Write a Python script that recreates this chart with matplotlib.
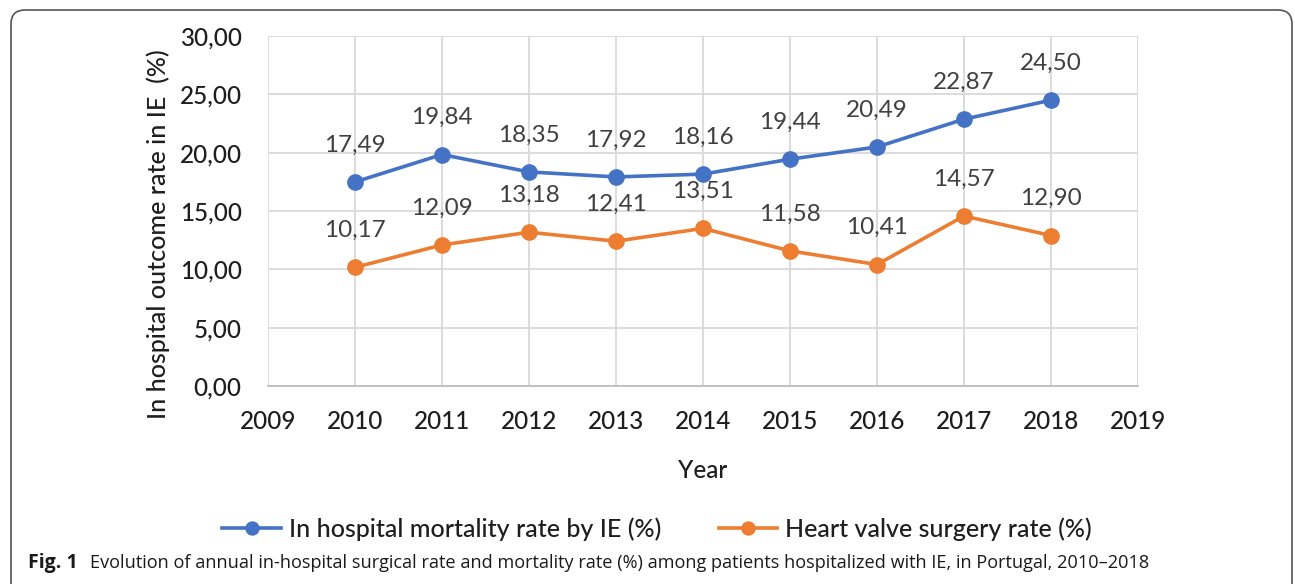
import numpy as np
import matplotlib.pyplot as plt
from matplotlib.patches import FancyBboxPatch
from matplotlib.ticker import FuncFormatter, MultipleLocator

# data
years = [2010, 2011, 2012, 2013, 2014, 2015, 2016, 2017, 2018]
mortality = [17.49, 19.84, 18.35, 17.92, 18.16, 19.44, 20.49, 22.87, 24.50]
surgery = [10.17, 12.09, 13.18, 12.41, 13.51, 11.58, 10.41, 14.57, 12.90]
label_mortality = "In hospital mortality rate by IE (%)"
label_surgery = "Heart valve surgery rate (%)"

blue = "#4472C4"
orange = "#ED7D31"
txt = "#1e1e1e"
W, H = 1295, 584

plt.rcParams['font.family'] = ['Lato', 'DejaVu Sans']

fig = plt.figure(figsize=(W / 100, H / 100), dpi=100)
ax = fig.add_axes([268 / W, 1 - 386 / H, 870 / W, 350 / H])


def komma(v, pos=None):
    return f"{v:.2f}".replace(".", ",")


ax.plot(years, mortality, color=blue, lw=2.6, marker='o', ms=11, label=label_mortality)
ax.plot(years, surgery, color=orange, lw=2.6, marker='o', ms=11, label=label_surgery)

for x, y in zip(years, mortality):
    ax.annotate(komma(y), (x, y), xytext=(0, 22), textcoords='offset points',
                ha='center', va='baseline', fontsize=17.5, color="#404040")
for x, y in zip(years, surgery):
    ax.annotate(komma(y), (x, y), xytext=(0, 22), textcoords='offset points',
                ha='center', va='baseline', fontsize=17.5, color="#404040")

ax.set_xlim(2009, 2019)
ax.set_ylim(0, 30)
ax.xaxis.set_major_locator(MultipleLocator(1))
ax.yaxis.set_major_locator(MultipleLocator(5))
ax.yaxis.set_major_formatter(FuncFormatter(komma))
ax.xaxis.set_major_formatter(FuncFormatter(lambda v, p: f"{int(v)}"))
ax.grid(True, color="#d9d9d9", lw=1.3)
ax.set_axisbelow(True)
for s in ['top', 'right', 'left']:
    ax.spines[s].set_visible(False)
ax.spines['bottom'].set_color("#bfbfbf")
ax.spines['bottom'].set_linewidth(1.3)
ax.tick_params(length=0, labelsize=17.5, colors=txt)
ax.tick_params(axis='y', pad=19)
ax.tick_params(axis='x', pad=17)
for t in ax.get_xticklabels() + ax.get_yticklabels():
    t.set_fontweight('medium')

fig.text(703 / W, 1 - 470 / H, "Year", ha='center', va='center', fontsize=17.5,
         color=txt, fontweight='medium')
fig.text(158 / W, 1 - 234 / H, "In hospital outcome rate in IE  (%)", rotation=90,
         ha='center', va='center', fontsize=18, color=txt, fontweight='medium')

leg = fig.legend(loc='center', bbox_to_anchor=(657 / W, 1 - 529 / H), ncol=2, frameon=False,
                 fontsize=18, handlelength=2.35, handletextpad=0.3, columnspacing=2.3,
                 labelcolor=txt, markerscale=0.85)
for t in leg.get_texts():
    t.set_fontweight('medium')

# caption
cap_font = ['Open Sans', 'DejaVu Sans']
fig.text(28 / W, 1 - 563 / H, "Fig. 1", ha='left', va='center', fontsize=14,
         fontweight='bold', family=cap_font, color="#1a1a1a")
fig.text(90 / W, 1 - 563 / H,
         "Evolution of annual in-hospital surgical rate and mortality rate (%) among patients "
         "hospitalized with IE, in Portugal, 2010\u20132018",
         ha='left', va='center', fontsize=13.1, family=cap_font, color="#1a1a1a")

# rounded frame round the figure
frame = FancyBboxPatch((11, -30), 1281, H - 10 + 30, boxstyle="round,pad=0,rounding_size=14",
                       transform=None, fill=False, ec="#555555", lw=1.2)
fig.patches.append(frame)

fig.savefig("out.png", dpi=100)
